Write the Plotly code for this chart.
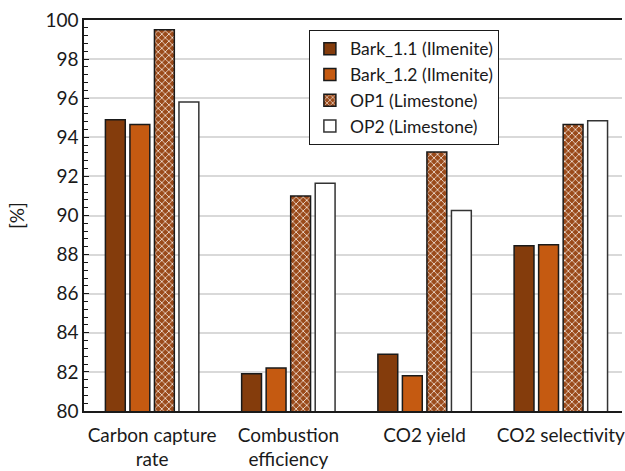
import plotly.graph_objects as go

categories = ["Carbon capture<br>rate", "Combustion<br>efficiency", "CO2 yield", "CO2 selectivity"]
series_names = ["Bark_1.1 (Ilmenite)", "Bark_1.2 (Ilmenite)", "OP1 (Limestone)", "OP2 (Limestone)"]
bark_11 = [94.9, 81.9, 82.9, 88.45]
bark_12 = [94.65, 82.2, 81.8, 88.5]
op1 = [99.5, 91.0, 93.25, 94.65]
op2 = [95.8, 91.65, 90.25, 94.85]

FONT = "Lato"
FS = 19

fig = go.Figure()
fig.add_trace(go.Bar(name=series_names[0], x=categories, y=bark_11,
                     marker=dict(color="#843C0C", line=dict(color="#1a1a1a", width=1.5))))
fig.add_trace(go.Bar(name=series_names[1], x=categories, y=bark_12,
                     marker=dict(color="#C55A11", line=dict(color="#1a1a1a", width=1.5))))
fig.add_trace(go.Bar(name=series_names[2], x=categories, y=op1,
                     marker=dict(color="#9a4a1a", line=dict(color="#1a1a1a", width=1.5),
                                 pattern=dict(shape="x", fgcolor="#f3e4da", bgcolor="#9a4a1a",
                                              size=5, solidity=0.3, fillmode="replace"))))
fig.add_trace(go.Bar(name=series_names[3], x=categories, y=op2,
                     marker=dict(color="#ffffff", line=dict(color="#333333", width=1.5))))

fig.update_layout(
    width=625, height=471,
    margin=dict(l=84, r=0, t=20, b=60),
    paper_bgcolor="white", plot_bgcolor="white",
    barmode="group", bargap=0.28, bargroupgap=0.19,
    font=dict(family=FONT, size=FS, color="#1a1a1a"),
    legend=dict(x=0.418, y=0.975, xanchor="left", yanchor="top",
                bordercolor="#1a1a1a", borderwidth=1, bgcolor="white",
                font=dict(family=FONT, size=17.5, color="#1a1a1a"),
                tracegroupgap=0, itemwidth=30),
    xaxis=dict(range=[-0.5, 3.449], showline=True, linecolor="#1a1a1a", linewidth=1.5,
               mirror=True, ticks="", showgrid=False, ticklabelstandoff=6,
               tickfont=dict(family=FONT, size=FS, color="#1a1a1a")),
    yaxis=dict(range=[80, 100], dtick=2, tick0=80, showline=True, linecolor="#1a1a1a",
               linewidth=1.5, ticks="inside", ticklen=5, tickcolor="#1a1a1a",
               showgrid=True, gridcolor="#d9d9d9", gridwidth=1.5,
               minor=dict(dtick=0.4, ticks="inside", ticklen=4, tickcolor="#1a1a1a", showgrid=False),
               title=dict(text="[%]", font=dict(family=FONT, size=FS, color="#1a1a1a"), standoff=16),
               tickfont=dict(family=FONT, size=FS, color="#1a1a1a"), zeroline=False),
)

fig.write_html("out.html")
